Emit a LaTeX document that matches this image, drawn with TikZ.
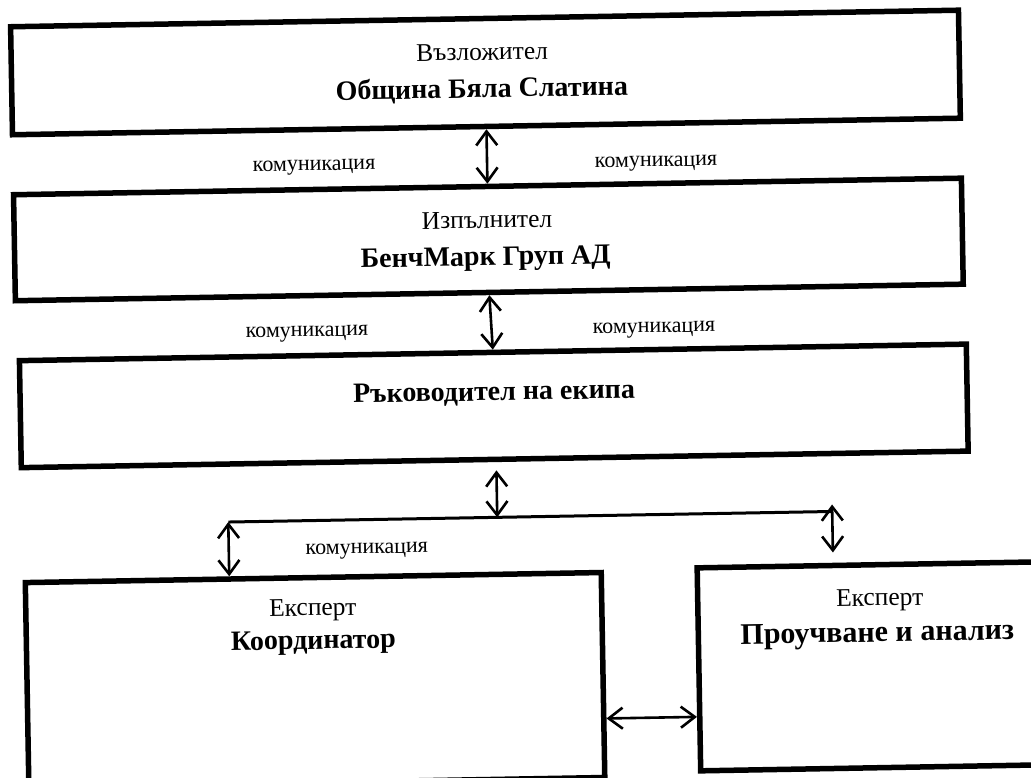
\documentclass[tikz,border=0pt]{standalone}
\usepackage{fontspec}
\setmainfont{Liberation Serif}
\newfontfamily\boxfont{Liberation Serif}
\usetikzlibrary{arrows.meta}

\tikzset{
  box/.style={draw=black, line width=5.5pt, rectangle, inner sep=0pt, transform shape},
  title/.style={font=\boxfont\fontsize{25.5}{30}\selectfont, inner sep=0pt, anchor=base, transform shape},
  heading/.style={font=\boxfont\bfseries\fontsize{28}{32}\selectfont, inner sep=0pt, anchor=base, transform shape},
  bigheading/.style={heading, font=\boxfont\bfseries\fontsize{30}{34}\selectfont},
  comm/.style={font=\boxfont\fontsize{22}{26}\selectfont, inner sep=0pt, anchor=base, transform shape},
  link/.style={line width=2.6pt, {Straight Barb[length=14pt,width=21pt]}-{Straight Barb[length=14pt,width=21pt]}},
  bus/.style={line width=3pt}
}

\begin{document}
\begin{tikzpicture}[x=1pt, y=-1pt]
  \useasboundingbox (0,0) rectangle (1031,778);
  \clip (0,0) rectangle (1031,778);
  \fill[white] (0,0) rectangle (1031,778);

  \begin{scope}[rotate around={1:(515.5,389)}]
    % organisation boxes
    \node[box, minimum width=948pt, minimum height=108pt] (b1) at (491,72) {};
    \node[box, minimum width=948pt, minimum height=106pt] (b2) at (491,239) {};
    \node[box, minimum width=947pt, minimum height=107pt] (b3) at (493.5,405.5) {};
    \node[box, minimum width=576pt, minimum height=205pt] (b4) at (310,676.5) {};
    \node[box, minimum width=366pt, minimum height=203pt] (b5) at (877,672.5) {};

    % box texts (placed by baseline)
    \node[title]      (t1a) at (488,59.5)  {Възложител};
    \node[heading]    (t1b) at (487,97)    {Община Бяла Слатина};
    \node[title]      (t2a) at (490,227.5) {Изпълнител};
    \node[heading]    (t2b) at (488,265)   {БенчМарк Груп АД};
    \node[heading]    (t3)  at (494,400)   {Ръководител на екипа};
    \node[title]      (t4a) at (309,612)   {Експерт};
    \node[heading]    (t4b) at (309,645.5) {Координатор};
    \node[title]      (t5a) at (876,612)   {Експерт};
    \node[bigheading] (t5b) at (873,648)   {Проучване и анализ};

    % communication labels
    \node[comm] (c1l) at (318,167) {комуникация};
    \node[comm] (c1r) at (660,169) {комуникация};
    \node[comm] (c2l) at (308,333) {комуникация};
    \node[comm] (c2r) at (655,335) {комуникация};
    \node[comm] (c3)  at (364,551) {комуникация};

    % connectors between the upper levels
    \draw[link] (b1.south) -- (b2.north);
    \draw[link] (b2.south) -- (b3.north);

    % distribution line towards the experts
    \coordinate (hl) at (226,517);
    \coordinate (hr) at (830,517);
    \coordinate (up3) at (495,470);
    \coordinate (rtop) at (830,510);
    \coordinate (rbot) at (830,558);
    \coordinate (mid) at (0,720);
    \draw[bus] (hl) -- (hr);
    \draw[link] (up3) -- (up3 |- hl);
    \draw[link] (hl) -- (hl |- b4.north);
    \draw[link] (rtop) -- (rbot);
    \draw[link] (b4.east |- mid) -- (b5.west |- mid);
  \end{scope}
\end{tikzpicture}
\end{document}
